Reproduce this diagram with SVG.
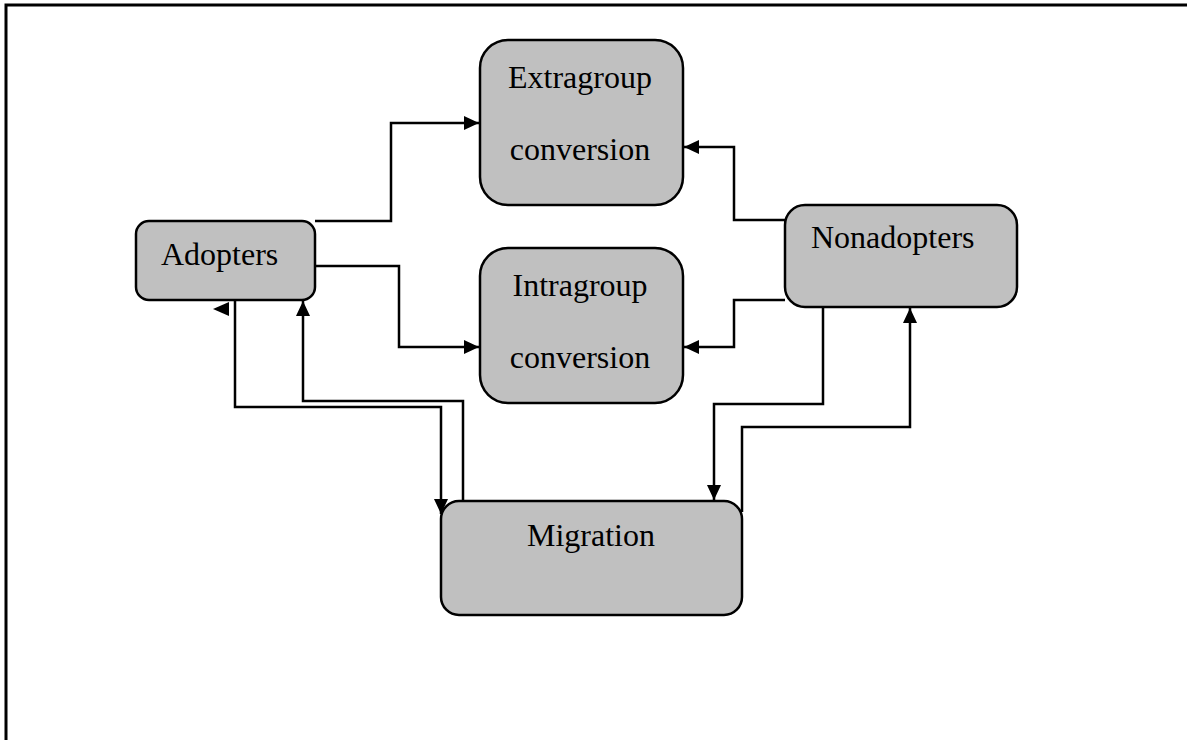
<svg xmlns="http://www.w3.org/2000/svg" width="1187" height="740" viewBox="0 0 1187 740">
<defs>
<marker id="ah" viewBox="0 0 15 14" refX="15" refY="7" markerWidth="15" markerHeight="14" markerUnits="userSpaceOnUse" orient="auto">
<path d="M0,0 L15,7 L0,14 Z" fill="#000"/>
</marker>
<style>
.box{fill:#c0c0c0;stroke:#000;stroke-width:2.5}
.lbl{font-family:"Liberation Serif","Times New Roman",serif;font-size:32px;fill:#000}
.c{fill:none;stroke:#000;stroke-width:2.5}
.ca{fill:none;stroke:#000;stroke-width:2.5;marker-end:url(#ah)}
</style>
</defs>
<rect width="1187" height="740" fill="#fff"/>
<path d="M6,740 V5 H1187" fill="none" stroke="#000" stroke-width="3"/>
<g id="connectors">
<path class="ca" d="M315,221 H391 V123 H479"/>
<path class="ca" d="M315,266 H399 V347 H479"/>
<path class="ca" d="M785,220 H734 V147 H684"/>
<path class="ca" d="M785,300 H734 V347 H684"/>
<path class="ca" d="M823,307 V404 H714 V500"/>
<path class="ca" d="M742,512 V427 H910 V308"/>
<path class="ca" d="M235,300 V407 H441 V514"/>
<path class="ca" d="M463,500 V401 H303 V301"/>
<path d="M213,309 L229,302 L229,316 Z" fill="#000"/>
</g>
<g id="extragroup">
<rect class="box" x="480" y="40" width="203" height="165" rx="28"/>
<text class="lbl" x="580" y="88" text-anchor="middle">Extragroup</text>
<text class="lbl" x="580" y="160" text-anchor="middle">conversion</text>
</g>
<g id="intragroup">
<rect class="box" x="480" y="248" width="203" height="155" rx="28"/>
<text class="lbl" x="580" y="296" text-anchor="middle">Intragroup</text>
<text class="lbl" x="580" y="368" text-anchor="middle">conversion</text>
</g>
<g id="adopters">
<rect class="box" x="136" y="221" width="179" height="79" rx="13"/>
<text class="lbl" x="161" y="265">Adopters</text>
</g>
<g id="nonadopters">
<rect class="box" x="785" y="205" width="232" height="102" rx="20"/>
<text class="lbl" x="811" y="248">Nonadopters</text>
</g>
<g id="migration">
<rect class="box" x="441" y="501" width="301" height="114" rx="18"/>
<text class="lbl" x="591" y="546" text-anchor="middle">Migration</text>
</g>
</svg>
